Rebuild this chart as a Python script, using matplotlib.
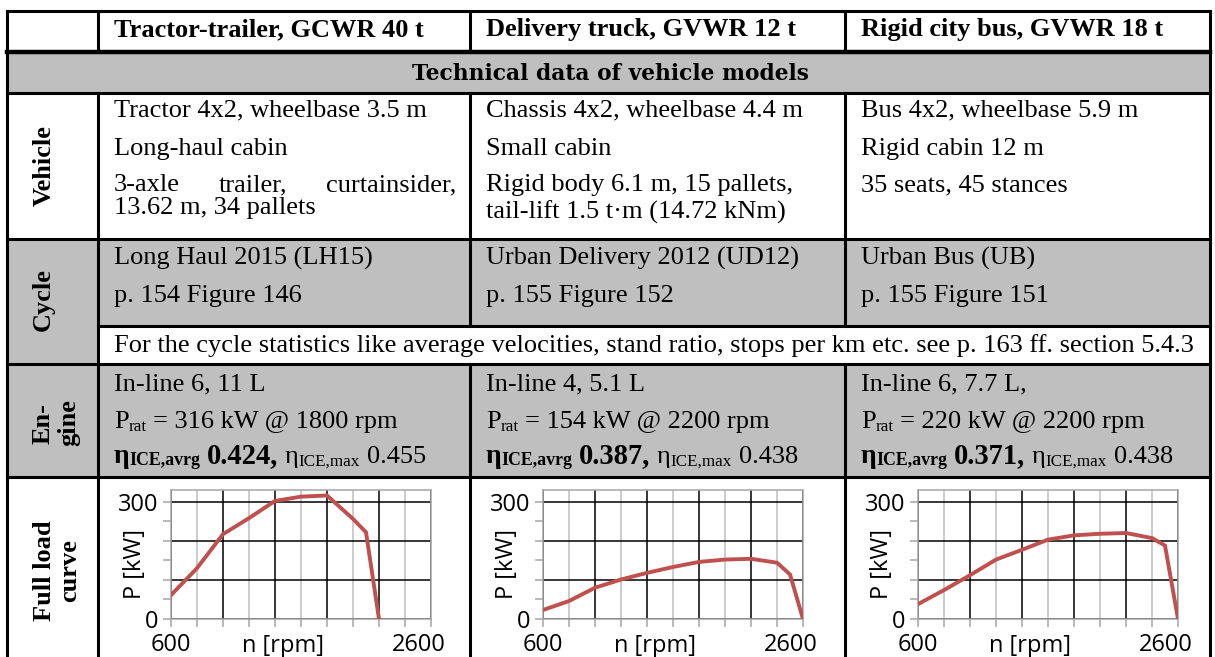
import matplotlib
matplotlib.use('Agg')
import matplotlib.pyplot as plt
from matplotlib.patches import Rectangle
from matplotlib.ticker import FixedLocator
from matplotlib.transforms import ScaledTranslation

# ---- table content
vehicles = ['Tractor-trailer, GCWR 40 t', 'Delivery truck, GVWR 12 t', 'Rigid city bus, GVWR 18 t']
section_title = 'Technical data of vehicle models'
vehicle_line1 = ['Tractor 4x2, wheelbase 3.5 m', 'Chassis 4x2, wheelbase 4.4 m', 'Bus 4x2, wheelbase 5.9 m']
vehicle_line2 = ['Long-haul cabin', 'Small cabin', 'Rigid cabin 12 m']
vehicle_line3 = ['3-axle trailer, curtainsider,', 'Rigid body 6.1 m, 15 pallets,', '35 seats, 45 stances']
vehicle_line4 = ['13.62 m, 34 pallets', 'tail-lift 1.5 t\u00b7m (14.72 kNm)', '']
cycle_names = ['Long Haul 2015 (LH15)', 'Urban Delivery 2012 (UD12)', 'Urban Bus (UB)']
cycle_refs = ['p. 154 Figure 146', 'p. 155 Figure 152', 'p. 155 Figure 151']
cycle_note = ('For the cycle statistics like average velocities, stand ratio, '
              'stops per km etc. see p. 163 ff. section 5.4.3')
engines = ['In-line 6, 11 L', 'In-line 4, 5.1 L', 'In-line 6, 7.7 L,']
p_rated = [316, 154, 220]
n_rated = [1800, 2200, 2200]
eta_avrg = ['0.424', '0.387', '0.371']
eta_max = ['0.455', '0.438', '0.438']

# ---- full load curves, P [kW] over n [rpm]
rpm_tractor = [600, 800, 1000, 1200, 1400, 1600, 1800, 2000, 2100, 2200]
kw_tractor = [61, 130, 217, 258, 302, 313, 316, 256, 222, 0]
rpm_delivery = [600, 800, 1000, 1200, 1400, 1600, 1800, 2000, 2200, 2400, 2500, 2600]
kw_delivery = [23, 46, 80, 101, 118, 133, 146, 152, 154, 144, 114, 0]
rpm_bus = [600, 800, 1000, 1200, 1400, 1600, 1800, 2000, 2200, 2400, 2500, 2600]
kw_bus = [38, 74, 112, 152, 177, 203, 214, 218, 220, 207, 188, 0]
curves = [(rpm_tractor, kw_tractor), (rpm_delivery, kw_delivery), (rpm_bus, kw_bus)]

W, H = 1215, 657
SERIF = 'Liberation Serif'
SANS = 'Open Sans'
FS = 19
FS_PX = FS * 100 / 72
CFS = 17
GRAY = '#BFBFBF'
RED = '#C0504D'

fig = plt.figure(figsize=(W / 100, H / 100), dpi=100)
ax = fig.add_axes([0, 0, 1, 1])
ax.set_xlim(0, W)
ax.set_ylim(H, 0)
ax.axis('off')
r = fig.canvas.get_renderer()

cx = [7, 98, 470, 845, 1210]
y_top, y_head, y_tech, y_veh, y_sub, y_cyc, y_eng = 11, 52, 93, 239, 326, 364, 477

# backgrounds
ax.add_patch(Rectangle((cx[0], y_head), cx[4] - cx[0], y_tech - y_head, color=GRAY, lw=0))
ax.add_patch(Rectangle((cx[0], y_veh), cx[1] - cx[0], y_cyc - y_veh, color=GRAY, lw=0))
ax.add_patch(Rectangle((cx[1], y_veh), cx[4] - cx[1], y_sub - y_veh, color=GRAY, lw=0))
ax.add_patch(Rectangle((cx[0], y_cyc), cx[4] - cx[0], y_eng - y_cyc, color=GRAY, lw=0))

# table rules
lw = 2.2
for y in [y_top, y_tech, y_veh, y_cyc, y_eng]:
    ax.plot([cx[0], cx[4]], [y, y], color='black', lw=lw, solid_capstyle='projecting')
ax.plot([cx[0], cx[4]], [y_head, y_head], color='black', lw=3.2)
ax.plot([cx[1], cx[4]], [y_sub, y_sub], color='black', lw=lw)
for x in [cx[0], cx[4]]:
    ax.plot([x, x], [y_top, H], color='black', lw=lw)
ax.plot([cx[1], cx[1]], [y_top, y_head], color='black', lw=lw)
ax.plot([cx[1], cx[1]], [y_tech, H], color='black', lw=lw)
for x in cx[2:4]:
    ax.plot([x, x], [y_top, y_head], color='black', lw=lw)
    ax.plot([x, x], [y_tech, y_sub], color='black', lw=lw)
    ax.plot([x, x], [y_cyc, H], color='black', lw=lw)


def txt(x, y, s, bold=False, size=FS, **kw):
    return ax.text(x, y, s, family=SERIF, fontsize=size,
                   fontweight='bold' if bold else 'normal', va='baseline', **kw)


def rich(x, y, parts):
    # parts: text, size factor, bold, baseline shift, spaces before
    for s, k, bold, dy, sp in parts:
        x += sp * FS_PX * 0.25
        t = txt(x, y + dy, s, bold=bold, size=FS * k)
        x += t.get_window_extent(r).width


def justify(x0, x1, y, s):
    words = s.split()
    ts = [txt(0, y, w_) for w_ in words]
    widths = [t.get_window_extent(r).width for t in ts]
    gap = (x1 - x0 - sum(widths)) / (len(words) - 1)
    x = x0
    for t, wd in zip(ts, widths):
        t.set_x(x)
        x += wd + gap


# row labels
for s, x, y in [('Vehicle', 44, (y_tech + y_veh) / 2), ('Cycle', 43, (y_veh + y_cyc) / 2 - 2),
                ('En-\ngine', 56, 423), ('Full load\ncurve', 57, 571)]:
    ax.text(x, y, s, family=SERIF, fontsize=FS, fontweight='bold', rotation=90,
            ha='center', va='center', multialignment='center', linespacing=1.15)

ax.text(610, 80, section_title, family='DejaVu Serif', fontsize=15.7,
        fontweight='bold', ha='center', va='baseline')

for i in range(3):
    x0 = cx[i + 1] + 16
    txt(x0, 36, vehicles[i], bold=True)
    txt(x0, 116, vehicle_line1[i])
    txt(x0, 155, vehicle_line2[i])
    if i == 0:
        justify(x0, cx[i + 2] - 14, 191, vehicle_line3[i])
        txt(x0, 214, vehicle_line4[i])
    else:
        txt(x0, 191, vehicle_line3[i])
        txt(x0, 219, vehicle_line4[i])
    txt(x0, 265, cycle_names[i])
    txt(x0, 302, cycle_refs[i])
    txt(x0, 390, engines[i])
    rich(x0, 428, [('P', 1, False, 0, 0), ('rat', 0.65, False, 3, 0),
                   ('= %d kW @ %d rpm' % (p_rated[i], n_rated[i]), 1, False, 0, 1)])
    rich(x0, 463, [('\u03b7', 1.05, True, 0, 0), ('ICE,avrg', 0.68, True, 2, 0),
                   (eta_avrg[i] + ',', 1.08, True, 0, 1), ('\u03b7', 1, False, 0, 1),
                   ('ICE,max', 0.65, False, 3, 0), (eta_max[i], 1, False, 0, 1)])
txt(cx[1] + 16, 352, cycle_note)

# full load curve charts
ax_w, ax_h = 260, 129
ax_bottom = 619
for i, (rpm, kw) in enumerate(curves):
    left = cx[i + 1] + 73
    c = fig.add_axes([left / W, (H - ax_bottom) / H, ax_w / W, ax_h / H])
    c.plot(rpm, kw, color=RED, lw=2.8, solid_joinstyle='miter', zorder=3)
    c.set_xlim(600, 2600)
    c.set_ylim(0, 330)
    c.xaxis.set_major_locator(FixedLocator(range(600, 2601, 400)))
    c.xaxis.set_minor_locator(FixedLocator(range(800, 2401, 400)))
    c.set_xticklabels(['600', '', '', '', '', '2600'])
    c.yaxis.set_major_locator(FixedLocator([0, 100, 200, 300]))
    c.yaxis.set_minor_locator(FixedLocator([50, 150, 250]))
    c.set_yticklabels(['0', '', '', '300'])
    c.grid(which='major', color='black', lw=1.1)
    c.grid(which='minor', axis='x', color=GRAY, lw=1.1)
    c.tick_params(which='both', length=6, width=1.1, color='#A6A6A6', direction='out')
    c.tick_params(axis='x', pad=4, labelsize=CFS)
    c.tick_params(axis='y', pad=3, labelsize=CFS)
    for lab in c.get_xticklabels() + c.get_yticklabels():
        lab.set_family(SANS)
    last = c.get_xticklabels()[-1]
    last.set_transform(last.get_transform() + ScaledTranslation(-0.12, 0, fig.dpi_scale_trans))
    for sp in c.spines.values():
        sp.set_color('#A6A6A6')
        sp.set_linewidth(1.1)
    c.set_xlabel('n [rpm]', family=SANS, fontsize=CFS)
    c.xaxis.set_label_coords(0.43, -0.115)
    c.xaxis.label.set_va('top')
    c.set_ylabel('P [kW]', family=SANS, fontsize=CFS)
    c.yaxis.set_label_coords(-0.14, 0.43)
    c.yaxis.label.set_va('center')

fig.savefig('out.png', dpi=100)
